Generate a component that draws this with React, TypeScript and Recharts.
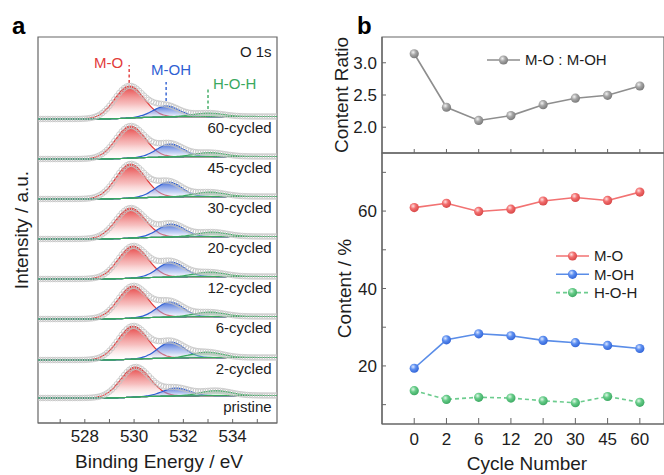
import React from 'react';
import { ComposedChart, Area, Line, XAxis, YAxis, ReferenceArea, ReferenceLine, ReferenceDot, Legend } from 'recharts';

const FONT = '"Liberation Sans", Arial, Helvetica, sans-serif';
const AXIS = '#666666';
const INK = '#1d1d1d';

// ---- panel a: stacked O 1s fits, listed from the bottom trace up ----
const spectrumNames = ['pristine', '2-cycled', '6-cycled', '12-cycled', '20-cycled', '30-cycled', '45-cycled', '60-cycled'];
const stackOffsets = [25, 63, 104, 144, 184, 224, 264, 304];
const moCenter = [530.05, 529.95, 529.95, 529.95, 529.85, 529.85, 529.85, 529.8];
const mohCenter = [531.7, 531.5, 531.45, 531.5, 531.5, 531.4, 531.45, 531.3];
const hohCenter = [533.3, 532.95, 533.05, 533.05, 533.15, 533.05, 533.05, 533.0];
const moHeight = [30, 33, 32, 32, 30, 34, 32, 32];
const mohHeight = [8, 16, 15, 15, 13, 15, 13, 11];
const hohHeight = [5, 5.5, 4.5, 4.5, 4.5, 4.5, 4, 3.5];
const bgStep = [2.5, 2.5, 2.5, 2.5, 2.5, 2.5, 2.5, 2.5];
const peakFwhm = [1.4, 1.25, 1.45];
const componentNames = ['M-O', 'M-OH', 'H-O-H'];
const energyTicks = [527, 528, 529, 530, 531, 532, 533, 534, 535];
const energyDomain = [526.1, 535.8];

// ---- panel b: content vs. cycle number ----
const cycleLabels = ['0', '2', '6', '12', '20', '30', '45', '60'];
const ratioValues = [3.14, 2.31, 2.105, 2.18, 2.35, 2.45, 2.495, 2.64];
const moContent = [60.9, 62.0, 59.9, 60.5, 62.6, 63.5, 62.75, 64.9];
const mohContent = [19.4, 26.75, 28.3, 27.8, 26.6, 26.0, 25.3, 24.5];
const hohContent = [13.6, 11.35, 11.9, 11.7, 11.0, 10.5, 12.1, 10.6];
const ratioTicks = [2.0, 2.5, 3.0];
const contentTicks = [10, 20, 30, 40, 50, 60, 70];

const compColors = ['#e23b3b', '#2f5fd3', '#3aa95f'];
const compFills = ['url(#fillMo)', 'url(#fillMoh)', 'url(#fillHoh)'];
const compKeys = ['mo', 'moh', 'hoh'];

const gauss = (x: number, c: number, h: number, fwhm: number) => {
  const s = fwhm / 2.3548;
  return h * Math.exp(-((x - c) ** 2) / (2 * s * s));
};

const energyGrid = Array.from({ length: 98 }, (_, k) => +(energyDomain[0] + k * 0.1).toFixed(2));

// components sit on a Shirley-type step background
const spectraRows = (() => {
  const rows: Record<string, any>[] = energyGrid.map((e) => ({ e }));
  spectrumNames.forEach((_, i) => {
    const comps = energyGrid.map((e) => [
      gauss(e, moCenter[i], moHeight[i], peakFwhm[0]),
      gauss(e, mohCenter[i], mohHeight[i], peakFwhm[1]),
      gauss(e, hohCenter[i], hohHeight[i], peakFwhm[2]),
    ]);
    const sums = comps.map((c) => c[0] + c[1] + c[2]);
    const total = sums.reduce((a, b) => a + b, 0);
    let acc = 0;
    energyGrid.forEach((_, k) => {
      acc += sums[k];
      const base = stackOffsets[i] + bgStep[i] * (acc / total);
      const [mo, moh, hoh] = comps[k];
      rows[k][`mo${i}`] = [base, base + mo];
      rows[k][`moh${i}`] = [base, base + moh];
      rows[k][`hoh${i}`] = [base, base + hoh];
      rows[k][`raw${i}`] = base + mo + moh + hoh;
    });
  });
  return rows;
})();

const cycleRows = cycleLabels.map((_, i) => ({
  i,
  ratio: ratioValues[i],
  mo: moContent[i],
  moh: mohContent[i],
  hoh: hohContent[i],
}));

// peak markers on the top trace
const top = spectrumNames.length - 1;
const topCenters = [moCenter[top], mohCenter[top], hohCenter[top]];
const markGap = [3, 5, 4];
const markLen = [18, 19, 21];
const labelDx = [-0.24, 0.2, 0.2];
const labelDy = [-2.7, 7, -0.7];
const labelAnchor: ('end' | 'middle' | 'start')[] = ['end', 'middle', 'start'];

const peakTop = (key: string) => Math.max(...spectraRows.map((r) => r[key][1]));

const tickFont = { fontSize: 17, fill: INK, fontFamily: FONT };

const vTitle = (text: string, baseX: number) => (p: any) => {
  const { y, height } = p.viewBox;
  return (
    <text transform={`translate(${baseX}, ${y + height / 2}) rotate(-90)`} textAnchor="middle" fontSize={19} fill={INK} fontFamily={FONT}>
      {text}
    </text>
  );
};

const hTitle = (text: string, dx: number, up: number) => (p: any) => {
  const { x, y, width, height } = p.viewBox;
  return (
    <text x={x + width / 2 + dx} y={y + height - up} textAnchor="middle" fontSize={19} fill={INK} fontFamily={FONT}>
      {text}
    </text>
  );
};

const pointText = (text: string, anchor: 'end' | 'middle' | 'start', color: string) => (p: any) => {
  const { x, y } = p.viewBox;
  return (
    <text x={x} y={y} textAnchor={anchor} fontSize={15} fill={color} fontFamily={FONT}>
      {text}
    </text>
  );
};

type LegendItem = { name: string; color: string; ball: string; dashed?: boolean };

const legendBox = (items: LegendItem[], rowGap: number) => () => (
  <svg width={130} height={items.length * rowGap + 4} style={{ overflow: 'visible' }}>
    {items.map((it, k) => {
      const cy = 10 + k * rowGap;
      return (
        <g key={it.name}>
          <line x1={0} x2={33} y1={cy} y2={cy} stroke={it.color} strokeWidth={1.6} strokeDasharray={it.dashed ? '4 3' : undefined} />
          <circle cx={16.5} cy={cy} r={4.6} fill={it.ball} />
          <text x={38} y={cy + 5.3} fontSize={15} fill={INK} fontFamily={FONT}>{it.name}</text>
        </g>
      );
    })}
  </svg>
);

const Defs = () => (
  <svg width={0} height={0} style={{ position: 'absolute' }}>
    <defs>
      <linearGradient id="fillMo" x1="0" y1="0" x2="0" y2="1">
        <stop offset="0" stopColor="#e53636" stopOpacity={0.95} />
        <stop offset="0.55" stopColor="#f08a8a" stopOpacity={0.55} />
        <stop offset="1" stopColor="#ffffff" stopOpacity={0.15} />
      </linearGradient>
      <linearGradient id="fillMoh" x1="0" y1="0" x2="0" y2="1">
        <stop offset="0" stopColor="#2b58d2" stopOpacity={0.9} />
        <stop offset="0.6" stopColor="#8fa8ea" stopOpacity={0.5} />
        <stop offset="1" stopColor="#ffffff" stopOpacity={0.15} />
      </linearGradient>
      <linearGradient id="fillHoh" x1="0" y1="0" x2="0" y2="1">
        <stop offset="0" stopColor="#3cae64" stopOpacity={0.7} />
        <stop offset="1" stopColor="#ffffff" stopOpacity={0.15} />
      </linearGradient>
      <radialGradient id="ballRed" cx="0.38" cy="0.34" r="0.66">
        <stop offset="0" stopColor="#ffe0e0" />
        <stop offset="0.45" stopColor="#f26e6e" />
        <stop offset="1" stopColor="#d84848" />
      </radialGradient>
      <radialGradient id="ballBlue" cx="0.38" cy="0.34" r="0.66">
        <stop offset="0" stopColor="#dde8ff" />
        <stop offset="0.45" stopColor="#5c8ef0" />
        <stop offset="1" stopColor="#3466d8" />
      </radialGradient>
      <radialGradient id="ballGreen" cx="0.38" cy="0.34" r="0.66">
        <stop offset="0" stopColor="#e0f7e8" />
        <stop offset="0.45" stopColor="#66cc88" />
        <stop offset="1" stopColor="#3eaa64" />
      </radialGradient>
      <radialGradient id="ballGray" cx="0.38" cy="0.34" r="0.66">
        <stop offset="0" stopColor="#f2f2f2" />
        <stop offset="0.45" stopColor="#a6a6a6" />
        <stop offset="1" stopColor="#7a7a7a" />
      </radialGradient>
    </defs>
  </svg>
);

const SpectraPanel = () => (
  <ComposedChart width={300} height={475} data={spectraRows} margin={{ top: 37, right: 23, bottom: 2, left: 0 }}>
    <XAxis
      type="number"
      dataKey="e"
      domain={energyDomain}
      ticks={energyTicks}
      tickFormatter={(v: number) => (v % 2 === 0 ? String(v) : '')}
      tickSize={-4}
      tickMargin={11}
      height={50}
      allowDataOverflow
      stroke={AXIS}
      axisLine={{ stroke: AXIS, strokeWidth: 1.2 }}
      tickLine={{ stroke: AXIS }}
      tick={tickFont}
      label={hTitle('Binding Energy / eV', 1.5, 5)}
    />
    <YAxis
      type="number"
      domain={[0, 386]}
      width={38}
      tick={false}
      tickLine={false}
      axisLine={false}
      label={vTitle('Intensity / a.u.', 28)}
    />
    <ReferenceArea x1={energyDomain[0]} x2={energyDomain[1]} y1={0} y2={386} fill="none" stroke={AXIS} strokeWidth={1.2} />
    {spectrumNames.map((_, i) =>
      compKeys.map((k, c) => (
        <Area
          key={`${k}${i}`}
          dataKey={`${k}${i}`}
          type="monotone"
          stroke={compColors[c]}
          strokeWidth={1.2}
          fill={compFills[c]}
          fillOpacity={1}
          dot={false}
          activeDot={false}
          isAnimationActive={false}
        />
      ))
    )}
    {spectrumNames.map((_, i) => (
      <Line
        key={`raw${i}`}
        dataKey={`raw${i}`}
        stroke="none"
        dot={{ r: 2.8, stroke: '#c3c3c3', strokeOpacity: 0.85, strokeWidth: 0.9, fill: 'none' }}
        activeDot={false}
        isAnimationActive={false}
      />
    ))}
    {spectrumNames.map((name, i) => (
      <ReferenceDot key={name} x={535.58} y={stackOffsets[i] - 14} r={0} stroke="none" fill="none" label={pointText(name, 'end', INK)} />
    ))}
    <ReferenceDot x={535.58} y={366.3} r={0} stroke="none" fill="none" label={pointText('O 1s', 'end', INK)} />
    {compKeys.map((k, c) => {
      const t = peakTop(`${k}${top}`);
      const y1 = t + markGap[c];
      const y2 = y1 + markLen[c];
      return (
        <ReferenceLine
          key={`mark${k}`}
          segment={[{ x: topCenters[c], y: y1 }, { x: topCenters[c], y: y2 }]}
          stroke={compColors[c]}
          strokeWidth={1.4}
          strokeDasharray="3 2.5"
        />
      );
    })}
    {compKeys.map((k, c) => {
      const t = peakTop(`${k}${top}`);
      const y2 = t + markGap[c] + markLen[c];
      return (
        <ReferenceDot
          key={`lab${k}`}
          x={topCenters[c] + labelDx[c]}
          y={y2 + labelDy[c]}
          r={0}
          stroke="none"
          fill="none"
          label={pointText(componentNames[c], labelAnchor[c], compColors[c])}
        />
      );
    })}
  </ComposedChart>
);

const cycleAxis = (showLabels: boolean, size: number, margin: number, height: number) => (
  <XAxis
    type="number"
    dataKey="i"
    domain={[-1, 7.75]}
    ticks={[0, 1, 2, 3, 4, 5, 6, 7]}
    tickFormatter={(v: number) => (showLabels ? cycleLabels[v] : '')}
    tickSize={size}
    tickMargin={margin}
    height={height}
    allowDataOverflow
    axisLine={{ stroke: AXIS, strokeWidth: 1.2 }}
    tickLine={{ stroke: AXIS }}
    tick={tickFont}
    label={showLabels ? hTitle('Cycle Number', 4, 4) : undefined}
  />
);

const RatioPanel = () => (
  <ComposedChart width={380} height={160} data={cycleRows} margin={{ top: 37, right: 16, bottom: 1, left: 0 }}>
    {cycleAxis(false, -4, 4, 6)}
    <YAxis
      type="number"
      domain={[1.6, 3.4]}
      ticks={ratioTicks}
      tickFormatter={(v: number) => v.toFixed(1)}
      tickSize={-4}
      tickMargin={9}
      width={82}
      allowDataOverflow
      axisLine={{ stroke: AXIS, strokeWidth: 1.2 }}
      tickLine={{ stroke: AXIS }}
      tick={tickFont}
      label={vTitle('Content Ratio', 48)}
    />
    <ReferenceArea x1={-1} x2={7.75} y1={1.6} y2={3.4} fill="none" stroke={AXIS} strokeWidth={1.2} />
    <Line
      dataKey="ratio"
      type="linear"
      stroke="#8e8e8e"
      strokeWidth={1.6}
      dot={{ r: 4.6, fill: 'url(#ballGray)', stroke: 'none' }}
      activeDot={false}
      isAnimationActive={false}
    />
    <Legend
      layout="vertical"
      align="center"
      verticalAlign="middle"
      wrapperStyle={{ left: 187, top: 50, width: 140, right: 'auto', bottom: 'auto' }}
      content={legendBox([{ name: 'M-O : M-OH', color: '#8e8e8e', ball: 'url(#ballGray)' }], 18)}
    />
  </ComposedChart>
);

const ContentPanel = () => (
  <ComposedChart width={380} height={335} data={cycleRows} margin={{ top: 13, right: 16, bottom: 1, left: 0 }}>
    {cycleAxis(true, -6, 15, 50)}
    <YAxis
      type="number"
      domain={[5, 75]}
      ticks={contentTicks}
      tickFormatter={(v: number) => (v % 20 === 0 ? String(v) : '')}
      tickSize={-4}
      tickMargin={9}
      width={82}
      allowDataOverflow
      axisLine={{ stroke: AXIS, strokeWidth: 1.2 }}
      tickLine={{ stroke: AXIS }}
      tick={tickFont}
      label={vTitle('Content / %', 51)}
    />
    <ReferenceArea x1={-1} x2={7.75} y1={5} y2={75} fill="none" stroke={AXIS} strokeWidth={1.2} />
    <Line dataKey="mo" type="linear" stroke="#f27272" strokeWidth={1.6} dot={{ r: 4.6, fill: 'url(#ballRed)', stroke: 'none' }} activeDot={false} isAnimationActive={false} />
    <Line dataKey="moh" type="linear" stroke="#5a8de8" strokeWidth={1.6} dot={{ r: 4.6, fill: 'url(#ballBlue)', stroke: 'none' }} activeDot={false} isAnimationActive={false} />
    <Line dataKey="hoh" type="linear" stroke="#6ccc8e" strokeWidth={1.6} strokeDasharray="4 3" dot={{ r: 4.6, fill: 'url(#ballGreen)', stroke: 'none', strokeDasharray: '' }} activeDot={false} isAnimationActive={false} />
    <Legend
      layout="vertical"
      align="center"
      verticalAlign="middle"
      wrapperStyle={{ left: 256, top: 106, width: 130, right: 'auto', bottom: 'auto' }}
      content={legendBox(
        [
          { name: 'M-O', color: '#f27272', ball: 'url(#ballRed)' },
          { name: 'M-OH', color: '#5a8de8', ball: 'url(#ballBlue)' },
          { name: 'H-O-H', color: '#6ccc8e', ball: 'url(#ballGreen)', dashed: true },
        ],
        18.3
      )}
    />
  </ComposedChart>
);

const panelLetter = (text: string, left: number): React.CSSProperties => ({
  position: 'absolute',
  left,
  top: 12,
  fontFamily: FONT,
  fontWeight: 700,
  fontSize: 24,
  lineHeight: '28px',
  color: '#000',
});

export default function App() {
  return (
    <div style={{ position: 'absolute', left: 0, top: 0, width: 664, height: 475, overflow: 'hidden', background: '#fff' }}>
      <Defs />
      <div style={{ position: 'absolute', left: 0, top: 0 }}>
        <SpectraPanel />
      </div>
      <div style={{ position: 'absolute', left: 300, top: 0 }}>
        <RatioPanel />
      </div>
      <div style={{ position: 'absolute', left: 300, top: 140 }}>
        <ContentPanel />
      </div>
      <div style={panelLetter('a', 12)}>a</div>
      <div style={panelLetter('b', 357)}>b</div>
    </div>
  );
}
